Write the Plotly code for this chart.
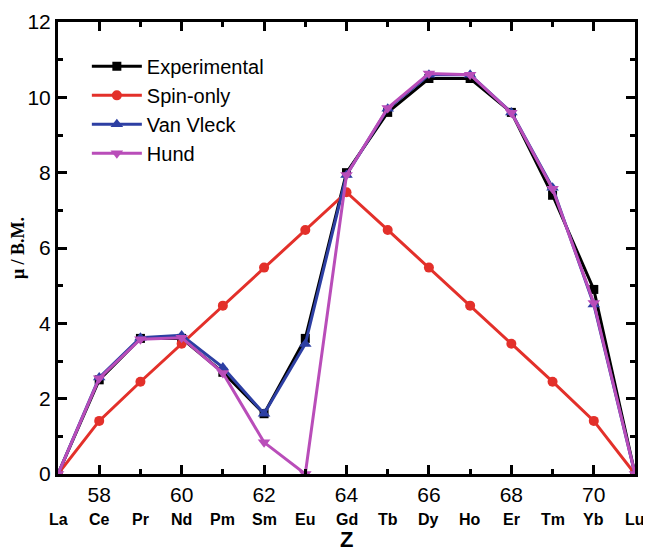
import plotly.graph_objects as go

z = list(range(57, 72))
elements = ['La', 'Ce', 'Pr', 'Nd', 'Pm', 'Sm', 'Eu', 'Gd', 'Tb', 'Dy', 'Ho', 'Er', 'Tm', 'Yb', 'Lu']
experimental = [0, 2.5, 3.6, 3.6, 2.7, 1.6, 3.6, 8.0, 9.6, 10.5, 10.5, 9.6, 7.4, 4.9, 0]
spin_only = [0, 1.41, 2.45, 3.46, 4.47, 5.48, 6.48, 7.48, 6.48, 5.48, 4.47, 3.46, 2.45, 1.41, 0]
van_vleck = [0, 2.56, 3.62, 3.68, 2.83, 1.6, 3.45, 7.94, 9.7, 10.6, 10.6, 9.6, 7.6, 4.5, 0]
hund = [0, 2.54, 3.58, 3.62, 2.68, 0.84, 0, 7.94, 9.72, 10.63, 10.6, 9.59, 7.57, 4.54, 0]

fig = go.Figure()
series = [
    ('Experimental', experimental, 'black', 'square', 9),
    ('Spin-only', spin_only, '#e3302a', 'circle', 10),
    ('Van Vleck', van_vleck, '#2d3fa3', 'triangle-up', 11),
    ('Hund', hund, '#b94db9', 'triangle-down', 11),
]
for name, vals, col, sym, sz in series:
    fig.add_trace(go.Scatter(name=name, x=z, y=vals, mode='lines+markers',
                             line=dict(color=col, width=3),
                             marker=dict(color=col, symbol=sym, size=sz)))

# element symbols under the Z tick numbers
for zi, el in zip(z, elements):
    fig.add_annotation(x=zi, y=0, xref='x', yref='paper', yanchor='middle', yshift=-45,
                       text='<b>' + el + '</b>', showarrow=False,
                       font=dict(family='Liberation Sans', size=16, color='black'))

# x axis title as an annotation so it can sit low like the original
fig.add_annotation(x=0.5, y=0, xref='paper', yref='paper', yanchor='top', yshift=-51,
                   text='<b>Z</b>', showarrow=False,
                   font=dict(family='Liberation Sans', size=22, color='black'))

axis_common = dict(showline=True, linecolor='black', linewidth=3, mirror='ticks',
                   ticks='inside', ticklen=9, tickwidth=3, tickcolor='black',
                   showgrid=False, zeroline=False, automargin=False,
                   tickfont=dict(family='Liberation Sans', size=21, color='black'))
fig.update_xaxes(range=[57, 71], tickvals=[58, 60, 62, 64, 66, 68, 70],
                 minor=dict(tickvals=[57, 59, 61, 63, 65, 67, 69, 71], ticks='inside',
                            ticklen=5, tickwidth=3, tickcolor='black'),
                 **axis_common)
fig.update_yaxes(range=[0, 12], tickvals=[0, 2, 4, 6, 8, 10, 12],
                 minor=dict(tickvals=[1, 3, 5, 7, 9, 11], ticks='inside',
                            ticklen=5, tickwidth=3, tickcolor='black'),
                 title=dict(text='<b>μ / B.M.</b>', standoff=8,
                            font=dict(family='Liberation Serif', size=18, color='black')),
                 **axis_common)
# page body adds an 8px margin, so the figure is a bit smaller than the window
fig.update_layout(width=643, height=542,
                  plot_bgcolor='white', paper_bgcolor='white',
                  margin=dict(l=50, r=16, t=14, b=76),
                  showlegend=True,
                  legend=dict(x=0.05, y=0.945, xanchor='left', yanchor='top',
                              bgcolor='rgba(0,0,0,0)', tracegroupgap=0, itemwidth=50,
                              font=dict(family='Liberation Sans', size=20, color='black')))
fig.write_html('out.html')
